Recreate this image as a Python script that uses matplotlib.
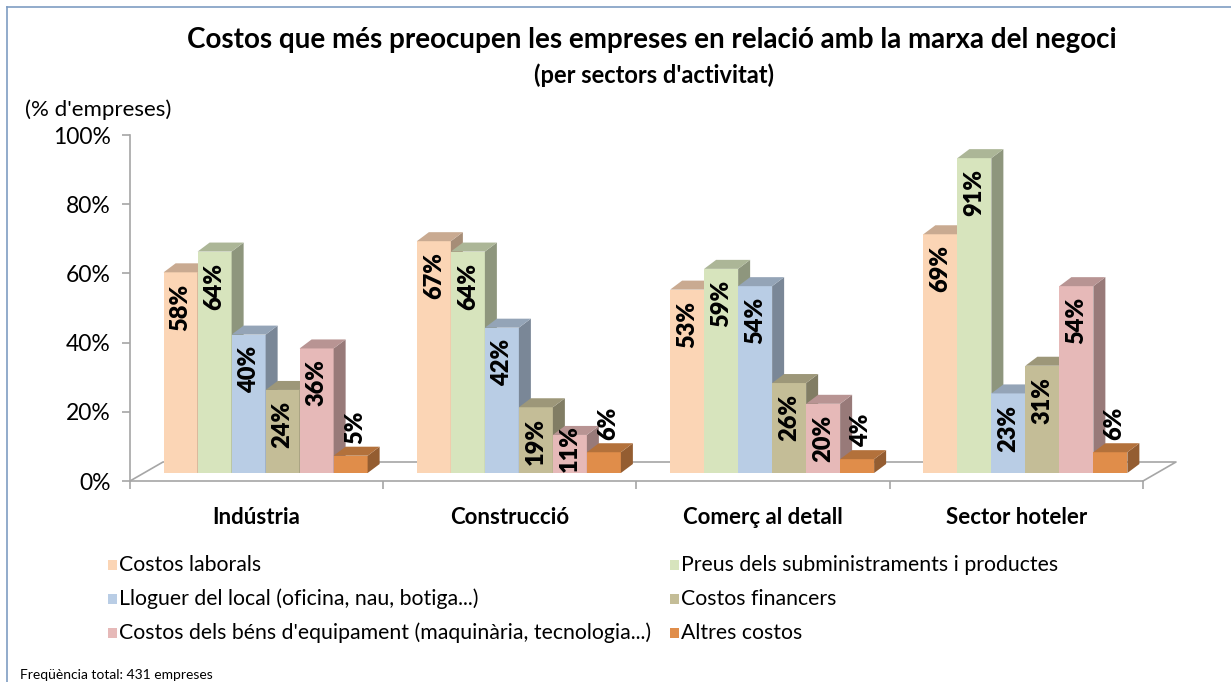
import matplotlib
matplotlib.use("Agg")
import matplotlib.pyplot as plt
from matplotlib.patches import Polygon, Rectangle
from matplotlib.lines import Line2D
import numpy as np

plt.rcParams['font.family'] = ['Lato', 'DejaVu Sans']

# ---------------- data ----------------
categories = ["Indústria", "Construcció", "Comerç al detall", "Sector hoteler"]
series_names = [
    "Costos laborals",
    "Preus dels subministraments i productes",
    "Lloguer del local (oficina, nau, botiga...)",
    "Costos financers",
    "Costos dels béns d'equipament (maquinària, tecnologia...)",
    "Altres costos",
]
costos_laborals = [58, 67, 53, 69]
preus_subministraments = [64, 64, 59, 91]
lloguer_local = [40, 42, 54, 23]
costos_financers = [24, 19, 26, 31]
bens_equipament = [36, 11, 20, 54]
altres_costos = [5, 6, 4, 6]
series_values = [costos_laborals, preus_subministraments, lloguer_local,
                 costos_financers, bens_equipament, altres_costos]
yticks = [0, 20, 40, 60, 80, 100]
ytick_labels = ["0%", "20%", "40%", "60%", "80%", "100%"]

title = "Costos que més preocupen les empreses en relació amb la marxa del negoci"
subtitle = "(per sectors d'activitat)"
ylabel = "(% d'empreses)"
footer = "Freqüència total: 431 empreses"

# ---------------- style ----------------
front_colors = ['#FBD5B5', '#D7E4BD', '#B9CDE5', '#C4BD97', '#E6B9B8', '#E08D4A']

def shade(c, f):
    r, g, b = matplotlib.colors.to_rgb(c)
    return (r * f, g * f, b * f)

side_colors = [shade(c, 0.66) for c in front_colors]
top_colors = [shade(c, 0.80) for c in front_colors]

W, H = 1231, 682
fig = plt.figure(figsize=(W / 100, H / 100), dpi=100)
fig.patch.set_facecolor('white')

# axes area: x from 130px to 1143px, y from 481px (0%) to 135px (100%)
ax_l, ax_r, ax_b, ax_t = 130, 1143, 481, 135
ax = fig.add_axes([ax_l / W, 1 - ax_b / H, (ax_r - ax_l) / W, (ax_b - ax_t) / H])
ax.set_xlim(-0.5, 3.5)
ax.set_ylim(0, 100)
ax.set_facecolor('none')

px_x = 4.0 / (ax_r - ax_l)      # data units per pixel (x)
px_y = 100.0 / (ax_b - ax_t)    # data units per pixel (y)

bar_w = 34 * px_x
base = 8 * px_y                 # bars sit at mid depth of the floor
dx, dy = 12 * px_x, 9 * px_y    # bar depth offset
shift = 9 * px_x                # horizontal mid-depth shift
fdx, fdy = 33 * px_x, 19 * px_y  # floor depth
label_len_px = 48

grey = '#A6A6A6'
# floor
floor = [(-0.5, 0), (-0.5 + fdx, fdy), (3.5 + fdx, fdy), (3.5, 0)]
ax.add_line(Line2D([p[0] for p in floor], [p[1] for p in floor], color=grey,
                   lw=1.2, clip_on=False, zorder=1))

x = np.arange(len(categories))
n = len(series_values)
for k, vals in enumerate(series_values):
    xl = x + shift - n * bar_w / 2 + k * bar_w
    z = 2 + k * 0.1
    ax.bar(xl, vals, width=bar_w, bottom=base, align='edge',
           color=front_colors[k], lw=0, zorder=z, clip_on=False)
    for xi, v in zip(xl, vals):
        t = base + v
        side = [(xi + bar_w, base), (xi + bar_w + dx, base + dy),
                (xi + bar_w + dx, t + dy), (xi + bar_w, t)]
        top = [(xi, t), (xi + dx, t + dy), (xi + bar_w + dx, t + dy), (xi + bar_w, t)]
        ax.add_patch(Polygon(side, closed=True, fc=side_colors[k], lw=0,
                             zorder=z, clip_on=False))
        ax.add_patch(Polygon(top, closed=True, fc=top_colors[k], lw=0,
                             zorder=z, clip_on=False))
        cx = xi + bar_w / 2
        kw = dict(rotation=90, ha='center', fontsize=17, fontweight='heavy',
                  color='black', zorder=10, annotation_clip=False,
                  textcoords='offset points')
        if v < 10:
            ax.annotate(f"{v}%", xy=(cx + dx * 0.35, t + dy), xytext=(0, 2),
                        va='bottom', **kw)
        elif v / px_y < label_len_px + 12:
            ax.annotate(f"{v}%", xy=(cx, base), xytext=(0, 1), va='bottom', **kw)
        else:
            ax.annotate(f"{v}%", xy=(cx, t), xytext=(0, -8), va='top', **kw)

# spines / ticks
for s in ['top', 'right']:
    ax.spines[s].set_visible(False)
for s in ['left', 'bottom']:
    ax.spines[s].set_color(grey)
    ax.spines[s].set_linewidth(1.2)
ax.set_yticks(yticks)
ax.set_yticklabels(ytick_labels, fontsize=16.5)
ax.tick_params(axis='y', length=6, width=1.2, color=grey, pad=8)
ax.set_xticks([-0.5, 0.5, 1.5, 2.5, 3.5])
ax.set_xticklabels([])
ax.tick_params(axis='x', which='major', length=6, width=1.2, color=grey)
ax.set_xticks(x, minor=True)
ax.set_xticklabels(categories, minor=True, fontsize=16, fontweight='bold')
ax.tick_params(axis='x', which='minor', length=0, pad=19)

# titles
fig.text(652 / W, 1 - 40 / H, title, ha='center', va='center',
         fontsize=20, fontweight='bold')
fig.text(654 / W, 1 - 75 / H, subtitle, ha='center', va='center',
         fontsize=17, fontweight='bold')
fig.text(25 / W, 1 - 110 / H, ylabel, ha='left', va='center', fontsize=16)
fig.text(20 / W, 1 - 675 / H, footer, ha='left', va='center', fontsize=10)

# legend (two columns)
leg_cols = [108, 670]
leg_rows = [565, 599, 633]
for k, name in enumerate(series_names):
    col = k % 2
    row = k // 2
    mx = leg_cols[col]
    my = leg_rows[row]
    fig.patches.append(Rectangle((mx / W, 1 - (my + 5) / H), 9 / W, 10 / H,
                                 transform=fig.transFigure, fc=front_colors[k],
                                 lw=0, figure=fig))
    fig.text((mx + 11) / W, 1 - my / H, name, ha='left', va='center', fontsize=15.3)

# outer frame
fig.add_artist(Line2D([7 / W, 7 / W], [0, 1 - 7 / H], transform=fig.transFigure,
                      color='#7F9DC2', lw=1.2))
fig.add_artist(Line2D([7 / W, 1], [1 - 7 / H, 1 - 7 / H], transform=fig.transFigure,
                      color='#7F9DC2', lw=1.2))

fig.savefig("out.png", dpi=100, facecolor='white')
